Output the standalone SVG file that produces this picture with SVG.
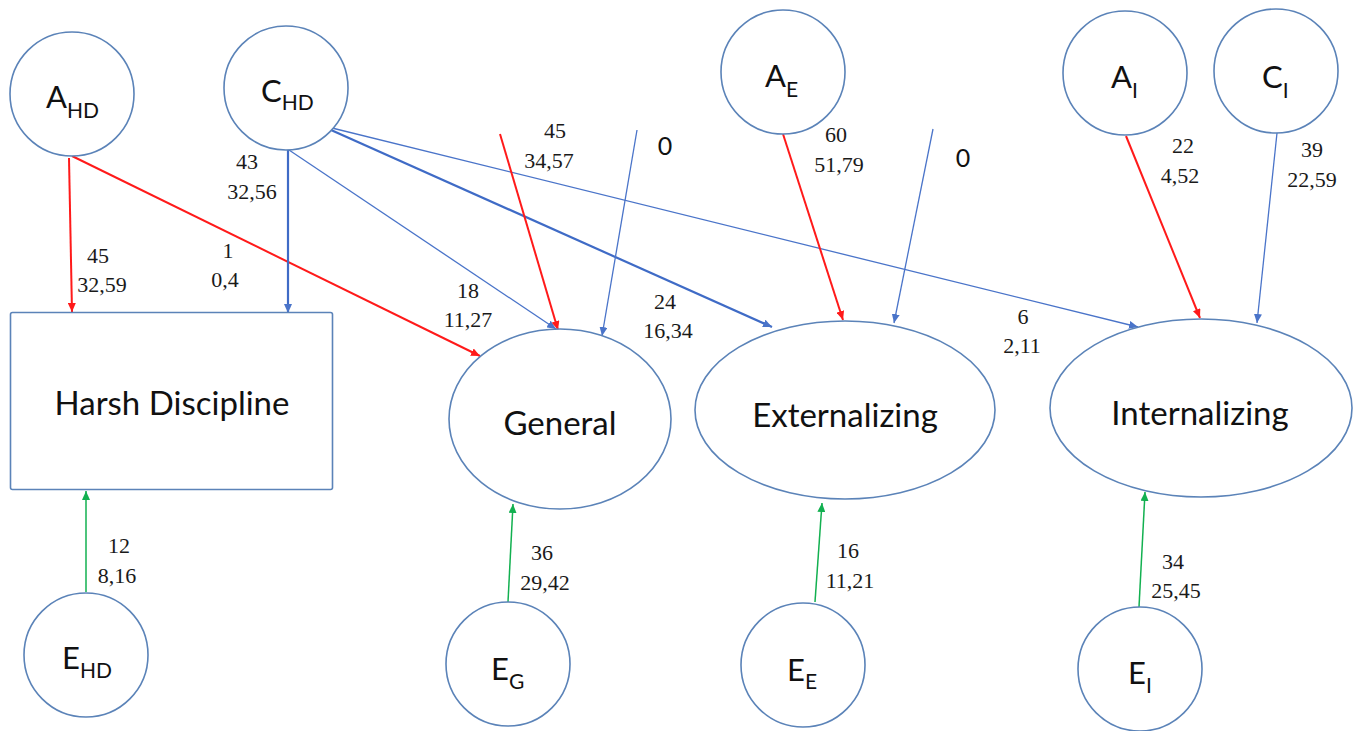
<svg xmlns="http://www.w3.org/2000/svg" width="1360" height="731" viewBox="0 0 1360 731">
  <style>
    .node { fill: #ffffff; stroke: #5b83b8; stroke-width: 1.6; }
    .lbl { font-family: Lato, "Open Sans", "Liberation Sans", sans-serif; fill: #111111; }
    .big { font-size: 33px; text-anchor: middle; }
    .main { font-size: 31px; }
    .sub { font-size: 21px; }
    .num { font-family: "Liberation Serif", "Times New Roman", serif; font-size: 22px; fill: #1a1a1a; text-anchor: middle; }
    .zero { font-family: Lato, "Open Sans", "Liberation Sans", sans-serif; font-size: 25px; fill: #111111; text-anchor: middle; }
    .red { stroke: #ff1a1a; stroke-width: 2; fill: none; marker-end: url(#ah-red); }
    .blue { stroke: #4a74c9; stroke-width: 1.3; fill: none; marker-end: url(#ah-blue); }
    .blue-thick { stroke: #3f6bc6; stroke-width: 2.2; fill: none; marker-end: url(#ah-blue); }
    .green { stroke: #12b050; stroke-width: 1.5; fill: none; marker-end: url(#ah-green); }
  </style>
  <defs>
    <marker id="ah-red" markerUnits="userSpaceOnUse" markerWidth="10" markerHeight="8" refX="9" refY="4" orient="auto">
      <path d="M0,0 L9,4 L0,8 z" fill="#ff1a1a"/>
    </marker>
    <marker id="ah-blue" markerUnits="userSpaceOnUse" markerWidth="10" markerHeight="8" refX="9" refY="4" orient="auto">
      <path d="M0,0 L9,4 L0,8 z" fill="#4a74c9"/>
    </marker>
    <marker id="ah-green" markerUnits="userSpaceOnUse" markerWidth="10" markerHeight="8" refX="9" refY="4" orient="auto">
      <path d="M0,0 L9,4 L0,8 z" fill="#12b050"/>
    </marker>
  </defs>

  <rect width="1360" height="731" fill="#ffffff"/>

  <!-- paths between the variables -->
  <g id="connectors">
    <line class="red" x1="69" y1="158" x2="72" y2="312"/>
    <line class="red" x1="72" y1="156" x2="480" y2="356"/>
    <line class="blue-thick" x1="288" y1="149" x2="288" y2="313"/>
    <line class="blue" x1="289" y1="150" x2="556" y2="329"/>
    <line class="blue-thick" x1="331" y1="130" x2="772" y2="327"/>
    <line class="blue" x1="332" y1="128" x2="1138" y2="327"/>
    <line class="red" x1="500" y1="134" x2="558" y2="330"/>
    <line class="blue" x1="637" y1="130" x2="602" y2="336"/>
    <line class="red" x1="783" y1="134" x2="843" y2="320"/>
    <line class="blue" x1="933" y1="129" x2="894" y2="323"/>
    <line class="red" x1="1126" y1="136" x2="1200" y2="318"/>
    <line class="blue" x1="1277" y1="133" x2="1257" y2="323"/>
    <line class="green" x1="86" y1="592" x2="86" y2="491"/>
    <line class="green" x1="508" y1="602" x2="513" y2="504"/>
    <line class="green" x1="815" y1="602" x2="822" y2="503"/>
    <line class="green" x1="1139" y1="607" x2="1145" y2="492"/>
  </g>

  <!-- path estimates with confidence intervals -->
  <g id="path-labels">
    <text class="num" x="98" y="263">45</text>
    <text class="num" x="102" y="292">32,59</text>
    <text class="num" x="247" y="169">43</text>
    <text class="num" x="252" y="199">32,56</text>
    <text class="num" x="228" y="258">1</text>
    <text class="num" x="225" y="287">0,4</text>
    <text class="num" x="468" y="298">18</text>
    <text class="num" x="468" y="327">11,27</text>
    <text class="num" x="555" y="138">45</text>
    <text class="num" x="549" y="168">34,57</text>
    <text class="zero" x="665" y="155">0</text>
    <text class="num" x="665" y="309">24</text>
    <text class="num" x="668" y="338">16,34</text>
    <text class="num" x="836" y="142">60</text>
    <text class="num" x="839" y="172">51,79</text>
    <text class="zero" x="963" y="167">0</text>
    <text class="num" x="1023" y="324">6</text>
    <text class="num" x="1022" y="353">2,11</text>
    <text class="num" x="1183" y="153">22</text>
    <text class="num" x="1180" y="183">4,52</text>
    <text class="num" x="1312" y="157">39</text>
    <text class="num" x="1312" y="187">22,59</text>
    <text class="num" x="119" y="553">12</text>
    <text class="num" x="117" y="583">8,16</text>
    <text class="num" x="542" y="560">36</text>
    <text class="num" x="545" y="590">29,42</text>
    <text class="num" x="848" y="558">16</text>
    <text class="num" x="850" y="588">11,21</text>
    <text class="num" x="1173" y="569">34</text>
    <text class="num" x="1176" y="598">25,45</text>
  </g>

  <g id="A_HD">
    <circle class="node" cx="72" cy="94" r="62"/>
    <text class="lbl main" x="46" y="108">A<tspan class="sub" dy="10">HD</tspan></text>
  </g>
  <g id="C_HD">
    <circle class="node" cx="286" cy="88" r="62"/>
    <text class="lbl main" x="261" y="102">C<tspan class="sub" dy="8">HD</tspan></text>
  </g>
  <g id="A_E">
    <circle class="node" cx="783" cy="72" r="62"/>
    <text class="lbl main" x="765" y="87">A<tspan class="sub" dy="10">E</tspan></text>
  </g>
  <g id="A_I">
    <circle class="node" cx="1125" cy="73" r="62"/>
    <text class="lbl main" x="1111" y="88">A<tspan class="sub" dy="10">I</tspan></text>
  </g>
  <g id="C_I">
    <circle class="node" cx="1276" cy="71" r="62"/>
    <text class="lbl main" x="1262" y="88">C<tspan class="sub" dy="10">I</tspan></text>
  </g>

  <g id="harsh-discipline">
    <rect class="node" x="10.5" y="312.5" width="322" height="177" rx="2"/>
    <text class="lbl big" x="172" y="415">Harsh Discipline</text>
  </g>
  <g id="general">
    <ellipse class="node" cx="560" cy="419" rx="111" ry="90"/>
    <text class="lbl big" x="560" y="435">General</text>
  </g>
  <g id="externalizing">
    <ellipse class="node" cx="845" cy="410" rx="150" ry="89"/>
    <text class="lbl big" x="845" y="427">Externalizing</text>
  </g>
  <g id="internalizing">
    <ellipse class="node" cx="1201" cy="408" rx="151" ry="89"/>
    <text class="lbl big" x="1200" y="425">Internalizing</text>
  </g>

  <g id="E_HD">
    <circle class="node" cx="86" cy="655" r="62"/>
    <text class="lbl main" x="62" y="669">E<tspan class="sub" dy="9">HD</tspan></text>
  </g>
  <g id="E_G">
    <circle class="node" cx="508" cy="664" r="62"/>
    <text class="lbl main" x="491" y="680">E<tspan class="sub" dy="9">G</tspan></text>
  </g>
  <g id="E_E">
    <circle class="node" cx="803" cy="665" r="62"/>
    <text class="lbl main" x="787" y="681">E<tspan class="sub" dy="8">E</tspan></text>
  </g>
  <g id="E_I">
    <circle class="node" cx="1140" cy="669" r="62"/>
    <text class="lbl main" x="1128" y="684">E<tspan class="sub" dy="9">I</tspan></text>
  </g>
</svg>
